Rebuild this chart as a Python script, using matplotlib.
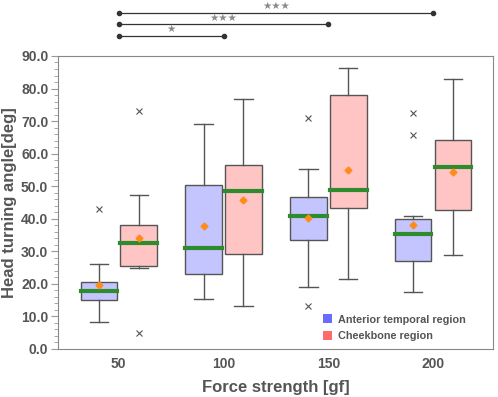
import matplotlib
matplotlib.use("Agg")
import matplotlib.pyplot as plt
from matplotlib.patches import Patch
from matplotlib.ticker import MultipleLocator

plt.rcParams['font.family'] = ['Liberation Sans', 'DejaVu Sans']

# force strength groups
forces = ['50', '100', '150', '200']

# Anterior temporal region (blue)
temp_whislo = [8.4, 15.3, 19.1, 17.4]
temp_q1 = [15.0, 22.9, 33.6, 26.9]
temp_med = [17.9, 31.1, 40.8, 35.4]
temp_q3 = [20.5, 50.4, 46.8, 39.9]
temp_whishi = [26.0, 69.1, 55.3, 40.9]
temp_mean = [19.8, 37.8, 40.1, 38.2]
temp_fliers = [[42.9], [], [71.0, 13.3], [72.5, 65.7]]

# Cheekbone region (pink)
cheek_whislo = [24.8, 13.3, 21.5, 28.9]
cheek_q1 = [25.6, 29.3, 43.2, 42.8]
cheek_med = [32.6, 48.5, 48.8, 55.9]
cheek_q3 = [38.0, 56.6, 77.9, 64.1]
cheek_whishi = [47.2, 76.7, 86.4, 83.0]
cheek_mean = [34.2, 45.9, 55.0, 54.5]
cheek_fliers = [[73.2, 4.8], [], [], []]

# significance brackets: (from group, to group, label)
sig_pairs = [(0, 1, '★'), (0, 2, '★★★'), (0, 3, '★★★')]


def make_stats(lo, q1, med, q3, hi, mean, fl):
    out = []
    for i in range(len(lo)):
        out.append(dict(whislo=lo[i], q1=q1[i], med=med[i], q3=q3[i],
                        whishi=hi[i], mean=mean[i], fliers=fl[i]))
    return out


fig = plt.figure(figsize=(4.98, 3.97), dpi=100)
ax = fig.add_axes([0.1165, 0.121, 0.873, 0.738])

edge = '#555555'
w = 0.35
off = 0.19
pos = list(range(len(forces)))

for stats, shift, face in [
    (make_stats(temp_whislo, temp_q1, temp_med, temp_q3, temp_whishi, temp_mean, temp_fliers), -off, '#c4c4ff'),
    (make_stats(cheek_whislo, cheek_q1, cheek_med, cheek_q3, cheek_whishi, cheek_mean, cheek_fliers), off, '#ffc4c4'),
]:
    ax.bxp(stats, positions=[p + shift for p in pos], widths=w,
           capwidths=w * 0.5, patch_artist=True, showmeans=True,
           boxprops=dict(facecolor=face, edgecolor=edge, linewidth=1.0),
           whiskerprops=dict(color=edge, linewidth=1.0),
           capprops=dict(color=edge, linewidth=1.0),
           medianprops=dict(color='#2e8b2e', linewidth=3.0, solid_capstyle='projecting'),
           meanprops=dict(marker='D', markerfacecolor='#ff8c1a', markeredgecolor='#ff8c1a', markersize=3.5),
           flierprops=dict(marker='x', markeredgecolor='#555555', markersize=5, markeredgewidth=0.8))

ax.set_xlim(-0.58, 3.57)
ax.set_ylim(0, 90)
ax.set_xticks(pos)
ax.set_xticklabels(forces)
ax.yaxis.set_major_locator(MultipleLocator(10))
ax.yaxis.set_minor_locator(MultipleLocator(2))
ax.set_yticklabels([f'{v:.1f}' for v in ax.get_yticks()])
ax.tick_params(axis='x', length=0, pad=6)
ax.tick_params(axis='y', which='major', length=5, color='#999999', pad=2)
ax.tick_params(axis='y', which='minor', length=3, color='#999999')
for lab in ax.get_xticklabels() + ax.get_yticklabels():
    lab.set_fontweight('bold')
    lab.set_color('#555555')
    lab.set_fontsize(10)
for sp in ax.spines.values():
    sp.set_color('#888888')

ax.set_xlabel('Force strength [gf]', fontsize=12, fontweight='bold', color='#555555', labelpad=6)
ax.set_ylabel('Head turning angle[deg]', fontsize=12, fontweight='bold', color='#555555', labelpad=3)

# significance lines above the axes
tr = ax.get_xaxis_transform()
levels = [1.069, 1.109, 1.148]
for (a, b, s), yl in zip(sig_pairs, levels):
    ax.plot([a, b], [yl, yl], color='#333333', lw=0.9, marker='o', markersize=3,
            transform=tr, clip_on=False)
    ax.text((a + b) / 2, yl + 0.022, s, transform=tr, ha='center', va='center',
            fontsize=7.5, color='#8a8a8a', family='DejaVu Sans')

handles = [Patch(facecolor='#6b6bff', edgecolor='none', label='Anterior temporal region'),
           Patch(facecolor='#ff6b6b', edgecolor='none', label='Cheekbone region')]
leg = ax.legend(handles=handles, loc='lower right', frameon=False, fontsize=7.8,
                handlelength=0.9, handleheight=0.9, handletextpad=0.5,
                labelspacing=0.6, borderaxespad=0.3, bbox_to_anchor=(0.955, 0.0))
for t in leg.get_texts():
    t.set_color('#555555')
    t.set_fontweight('bold')

fig.savefig('out.png', dpi=100)
